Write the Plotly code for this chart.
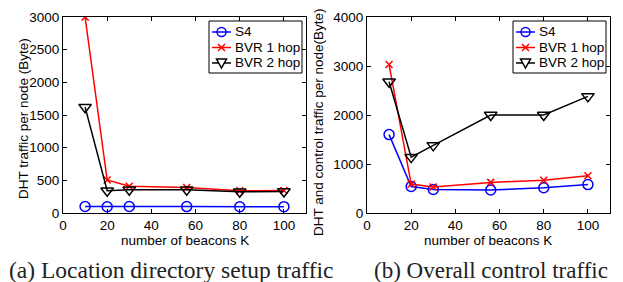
import plotly.graph_objects as go

# ---- data ----
beacons = [10, 20, 30, 56, 80, 100]

# (a) DHT traffic per node (Byte)
dht_s4 = [100, 95, 100, 98, 95, 97]
dht_bvr1 = [3000, 505, 410, 390, 340, 345]
dht_bvr2 = [1620, 340, 355, 355, 325, 330]

# (b) DHT and control traffic per node (Byte)
ctl_s4 = [1600, 540, 480, 470, 515, 580]
ctl_bvr1 = [3030, 590, 530, 625, 670, 760]
ctl_bvr2 = [2680, 1140, 1380, 2000, 2000, 2380]

series_names = ["S4", "BVR 1 hop", "BVR 2 hop"]
x_ticks = [0, 20, 40, 60, 80, 100]
y_ticks_a = [0, 500, 1000, 1500, 2000, 2500, 3000]
y_ticks_b = [0, 1000, 2000, 3000, 4000]

W, H = 623, 282
FONT = "Liberation Sans"
COLORS = ["#0000ff", "#ff0000", "#000000"]

styles = [
    dict(symbol="circle-open", size=10),
    dict(symbol="x-thin-open", size=7),
    dict(symbol="triangle-down-open", size=11),
]

fig = go.Figure()

def add_panel(ys, xa, ya):
    for name, y, st, c in zip(series_names, ys, styles, COLORS):
        fig.add_trace(go.Scatter(
            x=beacons, y=y, name=name, mode="lines+markers",
            xaxis=xa, yaxis=ya, showlegend=False,
            line=dict(color=c, width=1.5),
            marker=dict(symbol=st["symbol"], size=st["size"], color=c,
                        line=dict(color=c, width=1.5)),
        ))

add_panel([dht_s4, dht_bvr1, dht_bvr2], "x", "y")
add_panel([ctl_s4, ctl_bvr1, ctl_bvr2], "x2", "y2")

def px_x(p):
    return p / W

def px_y(p):
    return 1 - p / H

axis_common = dict(
    showline=True, linecolor="black", linewidth=1, mirror="ticks",
    ticks="inside", ticklen=4, tickcolor="black", tickwidth=1,
    showgrid=False, zeroline=False, automargin=False,
    tickfont=dict(family=FONT, size=13.5, color="black"),
)

y_dom = [px_y(213), px_y(17)]
fig.update_layout(
    width=W, height=H,
    margin=dict(l=0, r=0, t=0, b=0, pad=0, autoexpand=False),
    paper_bgcolor="white", plot_bgcolor="white",
    xaxis=dict(domain=[px_x(63), px_x(306)], range=[0, 110], tickvals=x_ticks,
               anchor="y", **axis_common),
    yaxis=dict(domain=y_dom, range=[0, 3000], tickvals=y_ticks_a, anchor="x",
               **axis_common),
    xaxis2=dict(domain=[px_x(367), px_x(610)], range=[0, 110], tickvals=x_ticks,
                anchor="y2", **axis_common),
    yaxis2=dict(domain=y_dom, range=[0, 4000], tickvals=y_ticks_b, anchor="x2",
                **axis_common),
    showlegend=False,
)

# ---- legends (drawn as decoration in pixel space) ----
shapes = []
annotations = []

def line_shape(x0, y0, x1, y1, color, width=1.5):
    return dict(type="line", xref="paper", yref="paper",
                x0=px_x(x0), y0=px_y(y0), x1=px_x(x1), y1=px_y(y1),
                line=dict(color=color, width=width))

def make_legend(bx, by):
    bw, bh = 93, 52
    shapes.append(dict(type="rect", xref="paper", yref="paper",
                       x0=px_x(bx), y0=px_y(by), x1=px_x(bx + bw), y1=px_y(by + bh),
                       line=dict(color="black", width=1), fillcolor="white"))
    for i, (name, c) in enumerate(zip(series_names, COLORS)):
        cy = by + 11 + i * 15.5
        cx = bx + 12.5
        shapes.append(line_shape(bx + 3, cy, bx + 22, cy, c))
        if i == 0:
            shapes.append(dict(type="circle", xref="paper", yref="paper",
                               x0=px_x(cx - 4.5), y0=px_y(cy - 4.5),
                               x1=px_x(cx + 4.5), y1=px_y(cy + 4.5),
                               line=dict(color=c, width=1.5)))
        elif i == 1:
            shapes.append(line_shape(cx - 3.5, cy - 3.5, cx + 3.5, cy + 3.5, c))
            shapes.append(line_shape(cx - 3.5, cy + 3.5, cx + 3.5, cy - 3.5, c))
        else:
            path = "M {} {} L {} {} L {} {} Z".format(
                px_x(cx - 5), px_y(cy - 4), px_x(cx + 5), px_y(cy - 4),
                px_x(cx), px_y(cy + 5))
            shapes.append(dict(type="path", xref="paper", yref="paper", path=path,
                               line=dict(color=c, width=1.5), fillcolor="white"))
        annotations.append(dict(text=name, x=px_x(bx + 23.5), y=px_y(cy),
                                xanchor="left", yanchor="middle",
                                font=dict(family=FONT, size=13.5, color="black")))

make_legend(209, 21)
make_legend(513, 21)
for s in shapes:
    s["layer"] = "above"

ann_font = dict(family=FONT, size=13.5, color="black")
annotations += [
    dict(text="DHT traffic per node (Byte)", x=px_x(23), y=px_y(119),
         textangle=-90, font=ann_font, xanchor="center", yanchor="middle"),
    dict(text="DHT and control traffic per node(Byte)", x=px_x(318), y=px_y(122),
         textangle=-90, font=ann_font, xanchor="center", yanchor="middle"),
    dict(text="number of beacons K", x=px_x(185), y=px_y(240), font=ann_font,
         xanchor="center", yanchor="middle"),
    dict(text="number of beacons K", x=px_x(488), y=px_y(240), font=ann_font,
         xanchor="center", yanchor="middle"),
    dict(text="(a) Location directory setup traffic", x=px_x(171), y=px_y(270),
         font=dict(family="Liberation Serif", size=23.5, color="#222222"),
         xanchor="center", yanchor="middle"),
    dict(text="(b) Overall control traffic", x=px_x(490.5), y=px_y(270),
         font=dict(family="Liberation Serif", size=23, color="#222222"),
         xanchor="center", yanchor="middle"),
]
for a in annotations:
    a.update(xref="paper", yref="paper", showarrow=False)
fig.update_layout(shapes=shapes, annotations=annotations)

fig.write_html("out.html",
               config=dict(displayModeBar=False),
               post_script="document.body.style.margin='0px';document.body.style.padding='0px';")
